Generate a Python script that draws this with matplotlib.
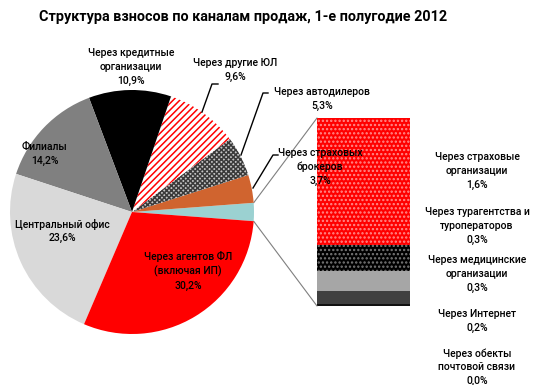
import matplotlib
matplotlib.use('Agg')
import matplotlib.pyplot as plt
from matplotlib.patches import ConnectionPatch
import numpy as np

plt.rcParams['font.family'] = ['Roboto', 'DejaVu Sans']
plt.rcParams['hatch.linewidth'] = 1.1

# main pie slices (the small ones are grouped into "other" and shown in the bar)
pie_names = ['Через страховых\nброкеров', 'Через автодилеров', 'Через другие ЮЛ',
             'Через кредитные\nорганизации', 'Филиалы', 'Центральный офис',
             'Через агентов ФЛ\n(включая ИП)']
pie_values = [3.7, 5.3, 9.6, 10.9, 14.2, 23.6, 30.2]

# breakdown of the "other" slice, bottom to top of the bar
bar_names = ['Через обекты\nпочтовой связи', 'Через Интернет',
             'Через медицинские\nорганизации', 'Через турагентства и\nтуроператоров',
             'Через страховые\nорганизации']
bar_values = [0.02, 0.17, 0.26, 0.33, 1.62]

title = 'Структура взносов по каналам продаж, 1-е полугодие 2012'


def pct(v):
    return f'{v:.1f}'.replace('.', ',') + '%'


W, H = 537, 385
fig = plt.figure(figsize=(W / 100, H / 100), dpi=100)
ax = fig.add_axes([0, 0, 1, 1])
ax.set_zorder(2)

other = sum(bar_values)
values = [other] + pie_values
total = sum(values)
cx, cy, r = 132, H - 212, 122

wedges, _ = ax.pie(values, center=(cx, cy), radius=r,
                   startangle=-other / total * 180, counterclock=True,
                   colors=['#9BD1D1', '#D0642F', 'white', 'white', 'black',
                           '#808080', '#D9D9D9', '#FF0000'],
                   wedgeprops=dict(linewidth=0))
# patterned slices: hatch colour comes from edgecolor
wedges[2].set_facecolor('#C4C4C4')
wedges[2].set_hatch('xxxxxxx')
wedges[2].set_edgecolor('#3a3a3a')
wedges[3].set_hatch('/////')
wedges[3].set_edgecolor('#FF0000')
for w in wedges:
    w.set_linewidth(0)

ax.set_xlim(0, W)
ax.set_ylim(0, H)
ax.set_aspect('equal')
ax.axis('off')

# title
ax.text(243, H - 17, title, ha='center', va='center', fontsize=10.4, fontweight='bold')

fs = 7.5
ls = 1.45


def lab(x, y, s, **kw):
    ax.text(x, H - y, s, ha='center', va='center', fontsize=fs, linespacing=ls,
            color='black', fontweight='medium', **kw)


# pie labels
lab(320, 167, pie_names[0] + '\n' + pct(pie_values[0]))
lab(322, 99, pie_names[1] + '\n' + pct(pie_values[1]))
lab(235, 70, pie_names[2] + '\n' + pct(pie_values[2]))
lab(131, 67, pie_names[3] + '\n' + pct(pie_values[3]))
lab(45, 154, pie_names[4] + '\n' + pct(pie_values[4]))
lab(62, 231, pie_names[5] + '\n' + pct(pie_values[5]))
lab(188, 271, pie_names[6] + '\n' + pct(pie_values[6]))

# leader lines
leaders = [
    [(218, 84), (212, 84), (202, 112)],
    [(268, 93), (263, 93), (241, 155)],
    [(278, 155), (273, 155), (253, 188)],
]
for pts in leaders:
    xs, ys = zip(*pts)
    ax.plot(xs, [H - y for y in ys], color='black', lw=1.0)

# bar of the "other" slice
bax = fig.add_axes([317 / W, (H - 306) / H, 93 / W, 188 / H])
bax.set_zorder(0)
bar_colors = ['#111111', '#404040', '#A6A6A6', 'black', '#FF0000']
bar_hatch = [None, None, None, '....', '....']
hatch_colors = [None, None, None, '#7a7a7a', '#FF8C8C']
bottom = 0
for v, c, h, hc in zip(bar_values, bar_colors, bar_hatch, hatch_colors):
    bax.bar(0, v, width=1, bottom=bottom, color=c, hatch=h,
            edgecolor=hc if h else c, linewidth=0)
    bottom += v
bax.set_xlim(-0.5, 0.5)
bax.set_ylim(0, other)
bax.axis('off')

# connector lines from the pie's "other" slice to the bar
th1, th2 = np.radians(wedges[0].theta1), np.radians(wedges[0].theta2)
for th, yb in [(th2, other), (th1, 0)]:
    con = ConnectionPatch(xyA=(cx + r * np.cos(th), cy + r * np.sin(th)), coordsA=ax.transData,
                          xyB=(-0.5, yb), coordsB=bax.transData,
                          color='#7f7f7f', lw=0.8)
    fig.add_artist(con)

# labels next to the bar
bar_label_y = [367, 321, 274, 226, 171]
for name, v, y in zip(bar_names, bar_values, bar_label_y):
    lab(477, y, name + '\n' + pct(v))

fig.savefig('out.png', dpi=100)
